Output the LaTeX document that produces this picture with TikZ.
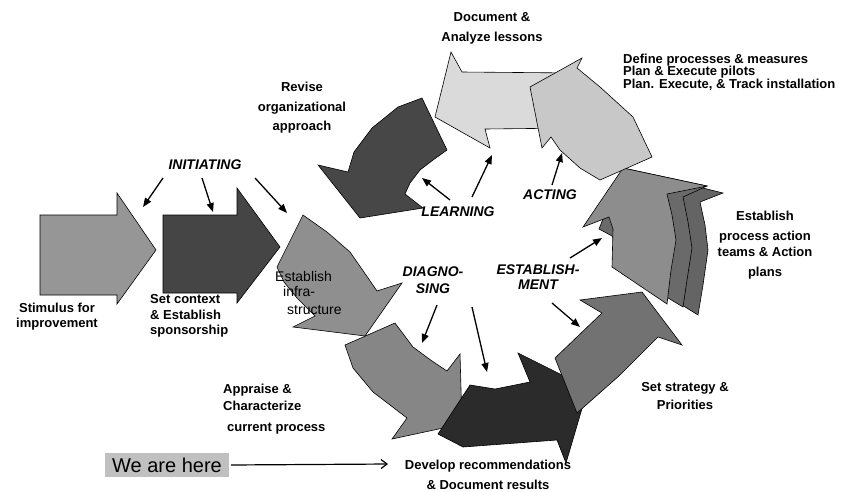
\documentclass[tikz,border=0pt]{standalone}
\usepackage{fontspec}
\setmainfont{Liberation Sans}
\usetikzlibrary{arrows.meta}
\definecolor{stimgray}{HTML}{969696}
\definecolor{contextgray}{HTML}{454545}
\definecolor{infragray}{HTML}{8F8F8F}
\definecolor{appraisegray}{HTML}{868686}
\definecolor{developgray}{HTML}{2B2B2B}
\definecolor{strategygray}{HTML}{727272}
\definecolor{teamsgray}{HTML}{8D8D8D}
\definecolor{teamsback}{HTML}{6A6A6A}
\definecolor{teamsbacker}{HTML}{646464}
\definecolor{definegray}{HTML}{C8C8C8}
\definecolor{documentgray}{HTML}{DADADA}
\definecolor{revisegray}{HTML}{474747}
\definecolor{herebox}{HTML}{C0C0C0}

\begin{document}
\begin{tikzpicture}[x=1pt, y=-1pt,
  blockarrow/.style={draw=black, line width=0.6pt},
  pointer/.style={draw=black, line width=1.3pt, -{Triangle[length=9pt,width=7pt]}},
  phasename/.style={font=\bfseries\itshape\fontsize{14}{16}\selectfont, inner sep=0pt, align=center},
  stagetext/.style={font=\bfseries\fontsize{13}{15}\selectfont, inner sep=0pt, align=center}]
\useasboundingbox (0,0) rectangle (842,491);
\filldraw[blockarrow, fill=stimgray] (40,215) -- (117,215) -- (117,193) -- (156,250) -- (117,304) -- (117,295) -- (40,295) -- cycle;
\filldraw[blockarrow, fill=contextgray] (163,215) -- (237,215) -- (237,188) -- (280,247) -- (237,303) -- (237,293) -- (163,293) -- cycle;
\filldraw[blockarrow, fill=infragray] (303,215) -- (327,232) -- (350,252) -- (366,275) -- (377,291) -- (402,283) -- (365,336) -- (293,327) -- (315,316) -- (297,298) -- (284,282) -- (277,267) -- cycle;
\filldraw[blockarrow, fill=appraisegray] (345,345) -- (395,323) -- (413,347) -- (432,361) -- (447,371) -- (460,354) -- (462,424) -- (392,439) -- (407,418) -- (373,392) -- (353,368) -- cycle;
\filldraw[blockarrow, fill=developgray] (470,385) -- (495,389) -- (530,382) -- (518,353) -- (588,388) -- (566,463) -- (557,440) -- (463,447) -- (438,434) -- cycle;
\filldraw[blockarrow, fill=strategygray] (555,358) -- (602,313) -- (580,300) -- (642,292) -- (682,345) -- (658,337) -- (620,375) -- (577,413) -- cycle;
\filldraw[blockarrow, fill=teamsbacker] (623,168) -- (723,193) -- (700,202) -- (705,225) -- (708,250) -- (703,285) -- (698,315) -- (650,285) -- cycle;
\filldraw[blockarrow, fill=teamsback] (623,168) -- (707,186) -- (683,197) -- (688,222) -- (692,248) -- (687,280) -- (683,307) -- (635,278) -- (612,236) -- (599,229) -- cycle;
\filldraw[blockarrow, fill=teamsgray] (623,168) -- (707,186) -- (667,194) -- (672,215) -- (676,240) -- (671,270) -- (667,304) -- (612,267) -- (613,229) -- (609,217) -- (583,227) -- cycle;
\filldraw[blockarrow, fill=documentgray] (451,52) -- (462,72) -- (575,73) -- (575,128) -- (485,129) -- (490,148) -- (435,117) -- cycle;
\filldraw[blockarrow, fill=definegray] (582,58) -- (577,68) -- (600,87) -- (633,117) -- (652,157) -- (600,180) -- (580,168) -- (560,150) -- (551,137) -- (542,148) -- (530,87) -- cycle;
\filldraw[blockarrow, fill=revisegray] (422,98) -- (447,150) -- (433,160) -- (420,170) -- (410,183) -- (405,194) -- (423,208) -- (360,218) -- (318,165) -- (348,172) -- (354,152) -- (372,128) -- (398,107) -- cycle;
\node[stagetext, font=\bfseries\fontsize{13}{20}\selectfont] (document) at (492,28) {Document \&\\Analyze lessons};
\node[stagetext, font=\bfseries\fontsize{13}{19.5}\selectfont] (revise) at (302,108) {Revise\\organizational\\approach};
\node[stagetext, font=\bfseries\fontsize{13}{12.5}\selectfont, align=left, anchor=west] (define) at (623,72) {Define processes \& measures\\Plan \& Execute pilots\\Plan. Execute, \& Track installation};
\node[stagetext, font=\bfseries\fontsize{13}{16}\selectfont] (teams) at (765,245) {Establish\\[4pt]process action\\teams \& Action\\[4pt]plans};
\node[stagetext, font=\bfseries\fontsize{13}{18}\selectfont] (strategy) at (685,396) {Set strategy \&\\Priorities};
\node[stagetext, font=\bfseries\fontsize{13}{20}\selectfont] (develop) at (488,475) {Develop recommendations\\\& Document results};
\node[stagetext, font=\bfseries\fontsize{13}{17}\selectfont, align=left, anchor=west] (appraise) at (223,409) {Appraise \&\\Characterize\\[4pt]\hspace{4pt}current process};
\node[stagetext] (stimulus) at (57,317) {Stimulus for\\improvement};
\node[stagetext, font=\bfseries\fontsize{13}{15.5}\selectfont, align=left, anchor=west] (context) at (150,316) {Set context\\\& Establish\\sponsorship};
\node[font=\fontsize{14}{15}\selectfont, inner sep=0pt, align=left, anchor=west] (infra) at (275,293) {Establish\\\hspace{8pt}infra-\\[3pt]\hspace{12pt}structure};
\node[fill=herebox, font=\fontsize{20}{20}\selectfont, text height=14pt, text depth=0pt, inner xsep=7pt, inner ysep=5pt] (here) at (167,465) {We are here};
\node[phasename] (initiating) at (205,165) {INITIATING};
\node[phasename] (learning) at (458,212) {LEARNING};
\node[phasename] (acting) at (550,195) {ACTING};
\node[phasename, font=\bfseries\itshape\fontsize{14}{15}\selectfont] (establishment) at (538,277) {ESTABLISH-\\MENT};
\node[phasename, font=\bfseries\itshape\fontsize{14}{17}\selectfont] (diagnosing) at (433,280) {DIAGNO-\\SING};
\coordinate (ini1s) at (163,178);
\coordinate (ini1e) at (143,207);
\coordinate (ini2s) at (202,178);
\coordinate (ini2e) at (213,212);
\coordinate (ini3s) at (255,178);
\coordinate (ini3e) at (287,213);
\coordinate (lrn1s) at (450,200);
\coordinate (lrn1e) at (422,178);
\coordinate (lrn2s) at (472,197);
\coordinate (lrn2e) at (492,155);
\coordinate (act1s) at (552,185);
\coordinate (act1e) at (562,153);
\coordinate (est1s) at (570,258);
\coordinate (est1e) at (602,238);
\coordinate (est2s) at (552,303);
\coordinate (est2e) at (580,327);
\coordinate (dia1s) at (437,305);
\coordinate (dia1e) at (422,343);
\coordinate (dia2s) at (472,307);
\coordinate (dia2e) at (487,372);
\coordinate (hereend) at (388,464);
\draw[pointer] (ini1s) -- (ini1e);
\draw[pointer] (ini2s) -- (ini2e);
\draw[pointer] (ini3s) -- (ini3e);
\draw[pointer] (lrn1s) -- (lrn1e);
\draw[pointer] (lrn2s) -- (lrn2e);
\draw[pointer] (act1s) -- (act1e);
\draw[pointer] (est1s) -- (est1e);
\draw[pointer] (est2s) -- (est2e);
\draw[pointer] (dia1s) -- (dia1e);
\draw[pointer] (dia2s) -- (dia2e);
\draw[line width=1.2pt, shorten <=2pt, -{Straight Barb[length=6pt,width=9pt]}] (here.east) -- (hereend);
\end{tikzpicture}
\end{document}
